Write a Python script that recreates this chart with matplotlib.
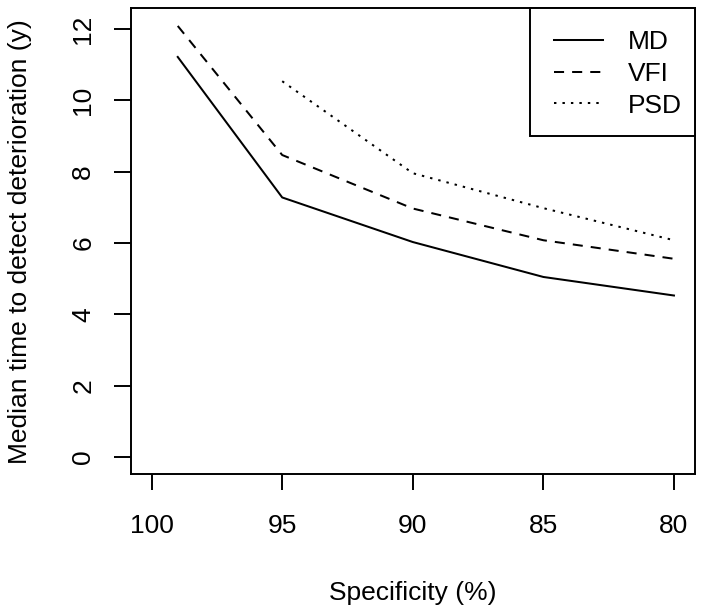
import matplotlib
matplotlib.use("Agg")
import matplotlib.pyplot as plt
from matplotlib.lines import Line2D
from matplotlib.patches import Rectangle

plt.rcParams['font.family'] = ['Liberation Sans', 'DejaVu Sans']

spec_md = [99, 95, 90, 85, 80]
md = [11.22, 7.28, 6.03, 5.05, 4.53]
spec_vfi = [99, 95, 90, 85, 80]
vfi = [12.09, 8.47, 6.97, 6.08, 5.56]
spec_psd = [95, 90, 85, 80]
psd = [10.54, 7.96, 6.98, 6.08]
xticks = [100, 95, 90, 85, 80]
yticks = [0, 2, 4, 6, 8, 10, 12]
labels = ['MD', 'VFI', 'PSD']

W, H = 704, 612
fig = plt.figure(figsize=(W / 100, H / 100), dpi=100)
ax = fig.add_axes([0.1857, 0.225, 0.987 - 0.1857, 0.9864 - 0.225])

lw = 1.45
styles = ['-', (0, (5, 4)), (0, (1.2, 3))]
series = [(spec_md, md), (spec_vfi, vfi), (spec_psd, psd)]
for (xs, ys), ls, lab in zip(series, styles, labels):
    ax.plot(xs, ys, color='black', lw=lw, linestyle=ls, label=lab)

ax.set_xlim(100.8, 79.2)
ax.set_ylim(-0.484, 12.584)
ax.set_xticks(xticks)
ax.set_yticks(yticks)
ax.set_xticklabels([str(v) for v in xticks], fontsize=19)
ax.set_yticklabels([str(v) for v in yticks], fontsize=19, rotation=90, va='center')
ax.tick_params(axis='x', length=11.5, width=1.4, pad=17)
ax.tick_params(axis='y', length=12.5, width=1.4, pad=13)
for s in ax.spines.values():
    s.set_linewidth(1.4)

ax.set_xlabel('Specificity (%)', fontsize=19, labelpad=31)
ax.set_ylabel('Median time to detect deterioration (y)', fontsize=19, labelpad=28)

# legend drawn manually in figure pixel coordinates (R-style legend box)
def fx(px):
    return px / W

def fy(py):
    return 1 - py / H

ax_right = 0.987 * W
ax_top = (1 - 0.9864) * H
fig.patches.append(Rectangle((fx(530), fy(136)), fx(ax_right) - fx(530), fy(ax_top) - fy(136),
                             transform=fig.transFigure, facecolor='white',
                             edgecolor='black', lw=1.4, zorder=5))
rows_y = [39.5, 71.7, 103.3]
for yy, ls, lab in zip(rows_y, styles, labels):
    fig.lines.append(Line2D([fx(554), fx(603)], [fy(yy), fy(yy)], transform=fig.transFigure,
                            color='black', lw=lw, linestyle=ls, zorder=6))
    fig.text(fx(628), fy(yy), lab, fontsize=19, ha='left', va='center_baseline', zorder=6)

fig.savefig('out.png', dpi=100)
